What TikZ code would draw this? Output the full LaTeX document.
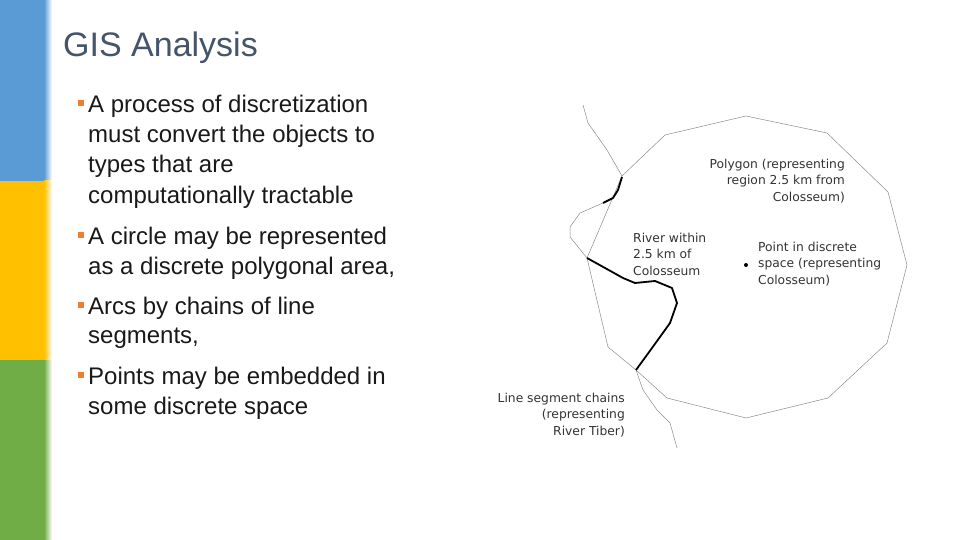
\documentclass[tikz,border=0pt]{standalone}
\usepackage{fontspec}
\setmainfont{Liberation Sans}
\newfontfamily\dv{DejaVu Sans}
\definecolor{cblue}{RGB}{91,155,213}
\definecolor{cyel}{RGB}{255,192,0}
\definecolor{cgreen}{RGB}{112,173,71}
\definecolor{ctitle}{RGB}{68,84,106}
\definecolor{cbul}{RGB}{237,125,49}
\begin{document}
\begin{tikzpicture}[x=1pt,y=-1pt,
  body/.style={anchor=west,inner sep=0pt,font=\fontsize{24}{28}\selectfont,text=black!90},
  bul/.style={fill=cbul,minimum size=6pt,inner sep=0pt},
  lab/.style={inner sep=0pt,font=\dv\fontsize{12.3}{16.5}\selectfont,text=black!80,align=#1},
  thin/.style={draw=black!45,line width=0.5pt},
  thick/.style={draw=black,line width=1.8pt,line join=round}]
\fill[white] (0,0) rectangle (960,540);
\fill[cblue] (0,0) rectangle (44,181);
\fill[cyel] (0,181) rectangle (44,360);
\fill[cgreen] (0,360) rectangle (44,540);
\shade[left color=cblue, right color=white] (44,0) rectangle (52,181);
\shade[left color=cyel, right color=white] (44,181) rectangle (52,360);
\shade[left color=cgreen, right color=white] (44,360) rectangle (52,540);
\node[anchor=west,inner sep=0pt,font=\fontsize{34}{40}\selectfont,text=ctitle] (title) at (63,48) {GIS Analysis};
\node[bul] (b1) at (81,103) {};
\node[body] (t1) at (88,106) {A process of discretization};
\node[body] (t1b) at (88,136) {must convert the objects to};
\node[body] (t1c) at (88,166) {types that are};
\node[body] (t1d) at (88,197) {computationally tractable};
\node[bul] (b2) at (81,235) {};
\node[body] (t2) at (88,238) {A circle may be represented};
\node[body] (t2b) at (88,268) {as a discrete polygonal area,};
\node[bul] (b3) at (81,305) {};
\node[body] (t3) at (88,308) {Arcs by chains of line};
\node[body] (t3b) at (88,338) {segments,};
\node[bul] (b4) at (81,375) {};
\node[body] (t4) at (88,378) {Points may be embedded in};
\node[body] (t4b) at (88,408) {some discrete space};
% polygon
\draw[thin] (746,116) -- (665,135) -- (622,176) -- (587,258) -- (608,347) -- (636,370) -- (667,398) -- (746,418) -- (828,398) -- (887,343) -- (907,265) -- (888,192) -- (827,133) -- cycle;
% river thin parts
\draw[thin] (583,105) -- (588,123) -- (607,150) -- (622,176);
\draw[thin] (603,203) -- (580,213) -- (570,227) -- (570,237) -- (587,258);
\draw[thin] (636,370) -- (643,390) -- (657,410) -- (670,423) -- (677,448);
% river thick parts
\draw[thick] (622,177) -- (618,190) -- (613,198) -- (603,203);
\draw[thick] (587,258) -- (623,278) -- (635,283) -- (655,281) -- (672,288) -- (677,303) -- (670,323) -- (652,348) -- (636,370);
\fill (746,265) circle (2pt);
\node[lab=right,anchor=east] (lp) at (845,181) {Polygon (representing\\region 2.5 km from\\Colosseum)};
\node[lab=left,anchor=west] (lr) at (633,254) {River within\\2.5 km of\\Colosseum};
\node[lab=left,anchor=west] (lpt) at (758,264) {Point in discrete\\space (representing\\Colosseum)};
\node[lab=right,anchor=east] (ll) at (625,415) {Line segment chains\\(representing\\River Tiber)};
\end{tikzpicture}
\end{document}
